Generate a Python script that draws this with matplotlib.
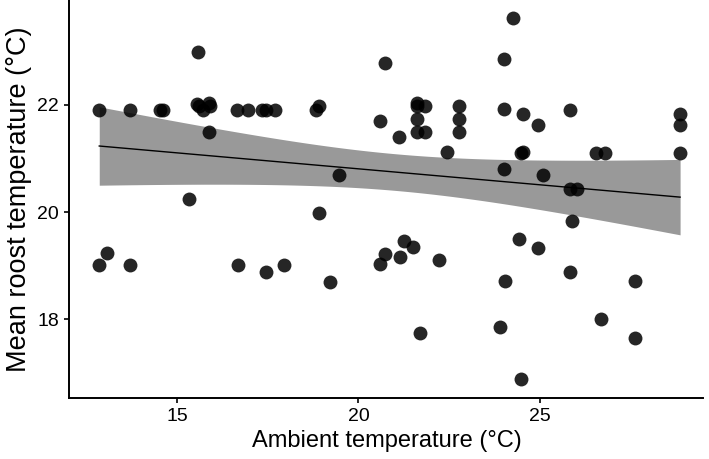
import numpy as np
import matplotlib
matplotlib.use('Agg')
import matplotlib.pyplot as plt

plt.rcParams['font.family'] = ['Liberation Sans', 'DejaVu Sans']

##  data
ambient = np.array([12.86, 13.72, 14.54, 14.61, 15.57, 15.55, 15.60, 15.71, 15.89, 15.92,
                    15.89, 16.66, 16.97, 17.34, 17.45, 17.69, 15.32,
                    12.86, 13.06, 13.72, 16.67, 17.46, 17.96,
                    24.25, 24.00, 20.73, 18.92, 18.82, 20.58, 21.60, 21.60, 21.83,
                    21.60, 21.60, 21.83, 21.13, 22.77, 22.77, 22.77, 22.44, 24.00,
                    24.54, 24.47, 24.54, 19.47, 24.00,
                    24.94, 25.82, 26.55, 26.79, 28.86, 28.86, 28.86, 25.08, 25.82, 26.03,
                    18.92, 19.21, 21.25, 21.49, 20.74, 21.14, 20.59, 22.21, 21.69,
                    24.43, 24.04, 23.91, 24.47,
                    25.89, 24.94, 25.82, 27.62, 26.67, 27.62])
roost = np.array([21.91, 21.91, 21.91, 21.91, 22.99, 22.02, 21.98, 21.91, 22.04, 21.98,
                  21.49, 21.91, 21.91, 21.91, 21.91, 21.91, 20.24,
                  19.02, 19.23, 19.02, 19.02, 18.89, 19.02,
                  23.63, 22.85, 22.79, 21.99, 21.91, 21.71, 22.03, 21.98, 21.98,
                  21.73, 21.49, 21.49, 21.41, 21.98, 21.73, 21.49, 21.12, 21.93,
                  21.84, 21.10, 21.12, 20.69, 20.80,
                  21.63, 21.91, 21.11, 21.11, 21.84, 21.63, 21.11, 20.69, 20.43, 20.43,
                  19.98, 18.70, 19.46, 19.34, 19.22, 19.17, 19.03, 19.11, 17.75,
                  19.49, 18.72, 17.85, 16.88,
                  19.83, 19.33, 18.89, 18.72, 18.01, 17.65])

##  linear fit with 95% confidence band (like geom_smooth(method='lm'))
n = len(ambient)
b, a = np.polyfit(ambient, roost, 1)
resid = roost - (a + b * ambient)
s = np.sqrt(np.sum(resid ** 2) / (n - 2))
xm = ambient.mean()
sxx = np.sum((ambient - xm) ** 2)
xs = np.linspace(ambient.min(), ambient.max(), 200)
ys = a + b * xs
se = s * np.sqrt(1.0 / n + (xs - xm) ** 2 / sxx)
tval = 1.993
lo = ys - tval * se
hi = ys + tval * se

fig = plt.figure(figsize=(7.09, 4.59), dpi=100)
ax = fig.add_axes([0.098, 0.133, 0.894, 0.867])

ax.fill_between(xs, lo, hi, color='#999999', linewidth=0, zorder=1)
ax.plot(xs, ys, color='black', linewidth=1.0, zorder=2)
ax.scatter(ambient, roost, s=100, color='black', alpha=0.85, linewidths=0, zorder=3)

ax.set_xlim(12.04, 29.5)
ax.set_ylim(16.53, 23.96)
ax.set_xticks([15, 20, 25])
ax.set_yticks([18, 20, 22])

for side in ['top', 'right']:
    ax.spines[side].set_visible(False)
for side in ['left', 'bottom']:
    ax.spines[side].set_linewidth(1.4)
ax.tick_params(width=1.2, length=3.5, labelsize=14, pad=4, colors='black')

ax.set_xlabel('Ambient temperature (°C)', fontsize=17, labelpad=3)
ax.set_ylabel('Mean roost temperature (°C)', fontsize=19.5, labelpad=4)

plt.savefig('out.png', dpi=100)
